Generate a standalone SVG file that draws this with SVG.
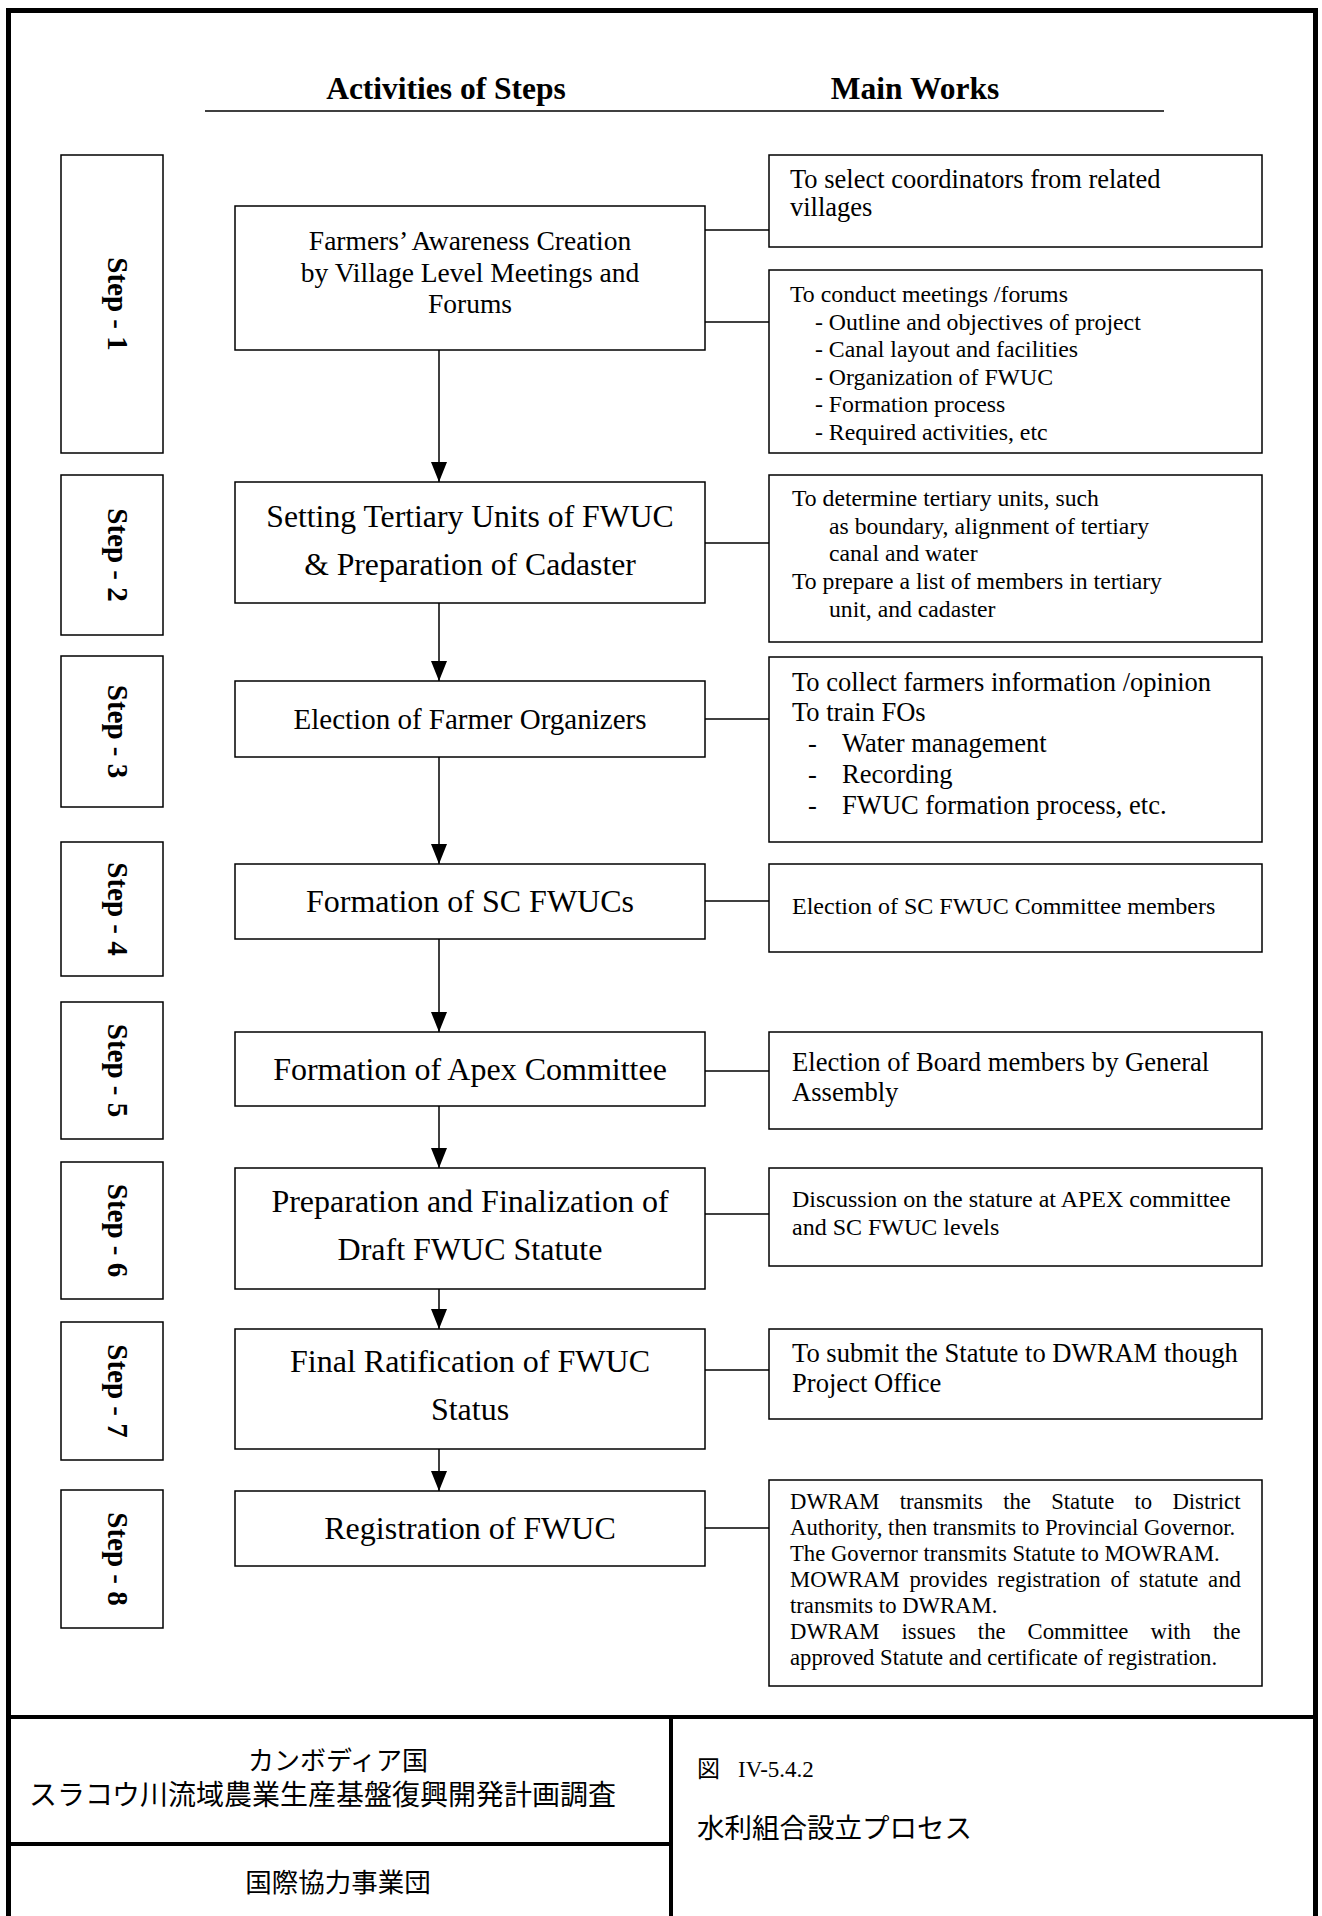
<svg xmlns="http://www.w3.org/2000/svg" width="1322" height="1916" viewBox="0 0 1322 1916">
<style>
.box{fill:#fff;stroke:#000;stroke-width:1.5}
.conn{stroke:#000;stroke-width:1.5;fill:none}
.frame{stroke:#000;stroke-width:5;fill:none}
.div{stroke:#000;stroke-width:4;fill:none}
.t{font-family:"Liberation Serif","Times New Roman",serif;fill:#000}
.h{font-weight:bold;font-size:31.5px;text-anchor:middle}
.step{font-weight:bold;font-size:29px;text-anchor:middle}
.m{text-anchor:middle;font-size:32px}
.jp{font-family:"Noto Sans CJK JP","Noto Sans CJK SC",sans-serif;fill:#000}
</style>
<defs>
<marker id="arr" viewBox="0 0 20 16" refX="20" refY="8" markerWidth="20" markerHeight="16" markerUnits="userSpaceOnUse" orient="auto">
<path d="M0,0 L20,8 L0,16 z" fill="#000"/>
</marker>
</defs>
<rect width="1322" height="1916" fill="#fff"/>
<g id="frame">
<path class="frame" d="M8.5,1916 V10.5 H1315.5 V1916"/>
<line class="div" x1="8" y1="1717" x2="1316" y2="1717"/>
<line class="div" x1="671" y1="1717" x2="671" y2="1916"/>
<line class="div" x1="8" y1="1844" x2="671" y2="1844"/>
</g>
<g id="header">
<text class="t h" x="446" y="99">Activities of Steps</text>
<text class="t h" x="915" y="99">Main Works</text>
<line class="conn" x1="205" y1="111" x2="1164" y2="111"/>
</g>
<g id="steps">
<g id="step1"><rect class="box" x="61" y="155" width="102" height="298"/><text class="t step" transform="translate(108,304) rotate(90)">Step - 1</text></g>
<g id="step2"><rect class="box" x="61" y="475" width="102" height="160"/><text class="t step" transform="translate(108,555) rotate(90)">Step - 2</text></g>
<g id="step3"><rect class="box" x="61" y="656" width="102" height="151"/><text class="t step" transform="translate(108,731.5) rotate(90)">Step - 3</text></g>
<g id="step4"><rect class="box" x="61" y="842" width="102" height="134"/><text class="t step" transform="translate(108,909) rotate(90)">Step - 4</text></g>
<g id="step5"><rect class="box" x="61" y="1002" width="102" height="137"/><text class="t step" transform="translate(108,1070.5) rotate(90)">Step - 5</text></g>
<g id="step6"><rect class="box" x="61" y="1162" width="102" height="137"/><text class="t step" transform="translate(108,1230.5) rotate(90)">Step - 6</text></g>
<g id="step7"><rect class="box" x="61" y="1322" width="102" height="138"/><text class="t step" transform="translate(108,1391) rotate(90)">Step - 7</text></g>
<g id="step8"><rect class="box" x="61" y="1490" width="102" height="138"/><text class="t step" transform="translate(108,1559) rotate(90)">Step - 8</text></g>
</g>
<g id="connectors">
<line class="conn" x1="439" y1="350" x2="439" y2="482" marker-end="url(#arr)"/>
<line class="conn" x1="439" y1="603" x2="439" y2="681" marker-end="url(#arr)"/>
<line class="conn" x1="439" y1="757" x2="439" y2="864" marker-end="url(#arr)"/>
<line class="conn" x1="439" y1="939" x2="439" y2="1032" marker-end="url(#arr)"/>
<line class="conn" x1="439" y1="1106" x2="439" y2="1168" marker-end="url(#arr)"/>
<line class="conn" x1="439" y1="1289" x2="439" y2="1329" marker-end="url(#arr)"/>
<line class="conn" x1="439" y1="1449" x2="439" y2="1491" marker-end="url(#arr)"/>
<line class="conn" x1="705" y1="230" x2="769" y2="230"/>
<line class="conn" x1="705" y1="322" x2="769" y2="322"/>
<line class="conn" x1="705" y1="543" x2="769" y2="543"/>
<line class="conn" x1="705" y1="719" x2="769" y2="719"/>
<line class="conn" x1="705" y1="901" x2="769" y2="901"/>
<line class="conn" x1="705" y1="1071" x2="769" y2="1071"/>
<line class="conn" x1="705" y1="1214" x2="769" y2="1214"/>
<line class="conn" x1="705" y1="1370" x2="769" y2="1370"/>
<line class="conn" x1="705" y1="1528" x2="769" y2="1528"/>
</g>
<g id="activities">
<g id="act1"><rect class="box" x="235" y="206" width="470" height="144"/>
<text class="t m" style="font-size:27.5px"><tspan x="470" y="250">Farmers’ Awareness Creation</tspan><tspan x="470" y="281.5">by Village Level Meetings and</tspan><tspan x="470" y="313">Forums</tspan></text></g>
<g id="act2"><rect class="box" x="235" y="482" width="470" height="121"/>
<text class="t m" style="font-size:31.7px"><tspan x="470" y="527">Setting Tertiary Units of FWUC</tspan><tspan x="470" y="575">&amp; Preparation of Cadaster</tspan></text></g>
<g id="act3"><rect class="box" x="235" y="681" width="470" height="76"/>
<text class="t m" style="font-size:29px" x="470" y="729">Election of Farmer Organizers</text></g>
<g id="act4"><rect class="box" x="235" y="864" width="470" height="75"/>
<text class="t m" x="470" y="912">Formation of SC FWUCs</text></g>
<g id="act5"><rect class="box" x="235" y="1032" width="470" height="74"/>
<text class="t m" x="470" y="1080">Formation of Apex Committee</text></g>
<g id="act6"><rect class="box" x="235" y="1168" width="470" height="121"/>
<text class="t m"><tspan x="470" y="1212">Preparation and Finalization of</tspan><tspan x="470" y="1260">Draft FWUC Statute</tspan></text></g>
<g id="act7"><rect class="box" x="235" y="1329" width="470" height="120"/>
<text class="t m"><tspan x="470" y="1372">Final Ratification of FWUC</tspan><tspan x="470" y="1420">Status</tspan></text></g>
<g id="act8"><rect class="box" x="235" y="1491" width="470" height="75"/>
<text class="t m" x="470" y="1539">Registration of FWUC</text></g>
</g>
<g id="works">
<g id="work1a"><rect class="box" x="769" y="155" width="493" height="92"/>
<text class="t" style="font-size:26.5px"><tspan x="790" y="188">To select coordinators from related</tspan><tspan x="790" y="216">villages</tspan></text></g>
<g id="work1b"><rect class="box" x="769" y="270" width="493" height="183"/>
<text class="t" style="font-size:23.8px"><tspan x="790" y="302">To conduct meetings /forums</tspan><tspan x="815" y="329.5">- Outline and objectives of project</tspan><tspan x="815" y="357">- Canal layout and facilities</tspan><tspan x="815" y="384.5">- Organization of FWUC</tspan><tspan x="815" y="412">- Formation process</tspan><tspan x="815" y="439.5">- Required activities, etc</tspan></text></g>
<g id="work2"><rect class="box" x="769" y="475" width="493" height="167"/>
<text class="t" style="font-size:23.7px"><tspan x="792" y="506">To determine tertiary units, such</tspan><tspan x="829" y="534">as boundary, alignment of tertiary</tspan><tspan x="829" y="561">canal and water</tspan><tspan x="792" y="589">To prepare a list of members in tertiary</tspan><tspan x="829" y="617">unit, and cadaster</tspan></text></g>
<g id="work3"><rect class="box" x="769" y="657" width="493" height="185"/>
<text class="t" style="font-size:26.5px"><tspan x="792" y="691">To collect farmers information /opinion</tspan><tspan x="792" y="721">To train FOs</tspan><tspan x="808" y="752">-</tspan><tspan x="842" y="752">Water management</tspan><tspan x="808" y="783">-</tspan><tspan x="842" y="783">Recording</tspan><tspan x="808" y="814">-</tspan><tspan x="842" y="814">FWUC formation process, etc.</tspan></text></g>
<g id="work4"><rect class="box" x="769" y="864" width="493" height="88"/>
<text class="t" style="font-size:24px" x="792" y="914">Election of SC FWUC Committee members</text></g>
<g id="work5"><rect class="box" x="769" y="1032" width="493" height="97"/>
<text class="t" style="font-size:26.6px"><tspan x="792" y="1071">Election of Board members by General</tspan><tspan x="792" y="1101">Assembly</tspan></text></g>
<g id="work6"><rect class="box" x="769" y="1168" width="493" height="98"/>
<text class="t" style="font-size:24px"><tspan x="792" y="1207">Discussion on the stature at APEX committee</tspan><tspan x="792" y="1235">and SC FWUC levels</tspan></text></g>
<g id="work7"><rect class="box" x="769" y="1329" width="493" height="90"/>
<text class="t" style="font-size:26.6px"><tspan x="792" y="1362">To submit the Statute to DWRAM though</tspan><tspan x="792" y="1392">Project Office</tspan></text></g>
<g id="work8"><rect class="box" x="769" y="1480" width="493" height="206"/>
<g class="t" style="font-size:22.7px">
<text x="790" y="1509" word-spacing="14.6">DWRAM transmits the Statute to District</text>
<text x="790" y="1535">Authority, then transmits to Provincial Governor.</text>
<text x="790" y="1561">The Governor transmits Statute to MOWRAM.</text>
<text x="790" y="1587" word-spacing="4.1">MOWRAM provides registration of statute and</text>
<text x="790" y="1613">transmits to DWRAM.</text>
<text x="790" y="1639" word-spacing="16.4">DWRAM issues the Committee with the</text>
<text x="790" y="1665">approved Statute and certificate of registration.</text>
</g></g>
</g>
<g id="titleblock">
<text class="jp" x="338" y="1770" text-anchor="middle" style="font-size:26px">カンボディア国</text>
<text class="jp" x="322.5" y="1805" text-anchor="middle" style="font-size:28px">スラコウ川流域農業生産基盤復興開発計画調査</text>
<text class="jp" x="338" y="1892" text-anchor="middle" style="font-size:26.5px">国際協力事業団</text>
<text x="697" y="1777" style="font-size:23px"><tspan class="jp">図</tspan><tspan class="t" dx="18">IV-5.4.2</tspan></text>
<text class="jp" x="697" y="1838" style="font-size:27.5px">水利組合設立プロセス</text>
</g>
</svg>
